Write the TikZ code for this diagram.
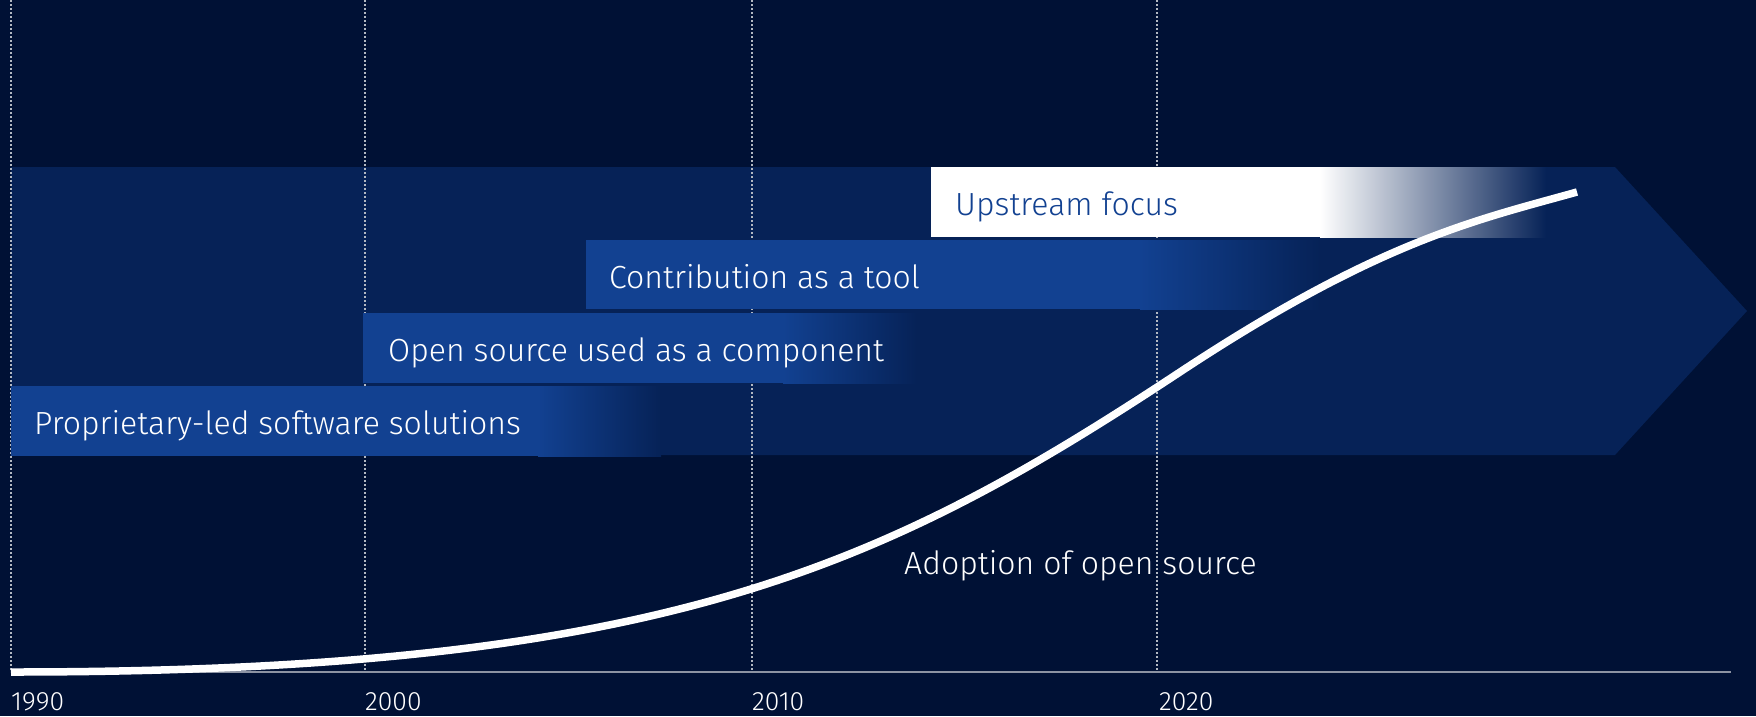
\documentclass[tikz,border=0pt]{standalone}
\usepackage{fontspec}
\setmainfont{Fira Sans}[UprightFont=* Light]
\definecolor{nightblue}{HTML}{001135}
\definecolor{arrowblue}{HTML}{062257}
\definecolor{barblue}{HTML}{124191}
\definecolor{axisgray}{HTML}{8C93A3}
\tikzset{
  phase/.style={anchor=base west,inner sep=0pt,text=white,
    font=\fontsize{32}{38}\selectfont},
  year/.style={anchor=base west,inner sep=0pt,text=white,
    font=\fontsize{26.5}{30}\selectfont},
  gridline/.style={draw=white!70!nightblue,line width=1.3pt,
    dash pattern=on 2pt off 2pt}
}

\begin{document}
\begin{tikzpicture}[x=1pt,y=-1pt]
    \fill[nightblue] (0,0) rectangle (1756,716);
    \useasboundingbox (0,0) rectangle (1756,716);
    \fill[arrowblue] (11,167) -- (1615,167) -- (1747,311) -- (1615,455)
      -- (11,455) -- cycle;
    \foreach \x in {11,365,752,1157}
      \draw[gridline] (\x,0) -- (\x,672);
    \draw[axisgray,line width=2pt] (11,672) -- (1731,672);
    \fill[barblue] (11,386) rectangle (538,456);
    \shade[left color=barblue,right color=arrowblue] (538,386) rectangle (661,456);
    \fill[barblue] (363,313) rectangle (783,383);
    \shade[left color=barblue,right color=arrowblue] (783,313) rectangle (917,383);
    \fill[barblue] (586,240) rectangle (1140,309);
    \shade[left color=barblue,right color=arrowblue] (1140,240) rectangle (1320,309);
    \fill[white] (931,167) rectangle (1320,237);
    \shade[left color=white,right color=arrowblue] (1320,167) rectangle (1546,237);
    \draw[white,line width=7.5pt] (11,672) .. controls (661,672) and (880,570)
      .. (1180,372) .. controls (1380,240) and (1477,220) .. (1577,192);
    \node[phase] (proprietary) at (34,434) {Proprietary-led software solutions};
    \node[phase] (component) at (388,361) {Open source used as a component};
    \node[phase] (contribution) at (609,288) {Contribution as a tool};
    \node[phase,text=barblue] (upstream) at (955,215) {Upstream focus};
    \node[phase] (adoption) at (904,574) {Adoption of open source};
    \foreach \x/\yr in {11/1990,365/2000,752/2010,1159/2020}
      \node[year] (y\yr) at (\x,710) {\yr};
\end{tikzpicture}
\end{document}
